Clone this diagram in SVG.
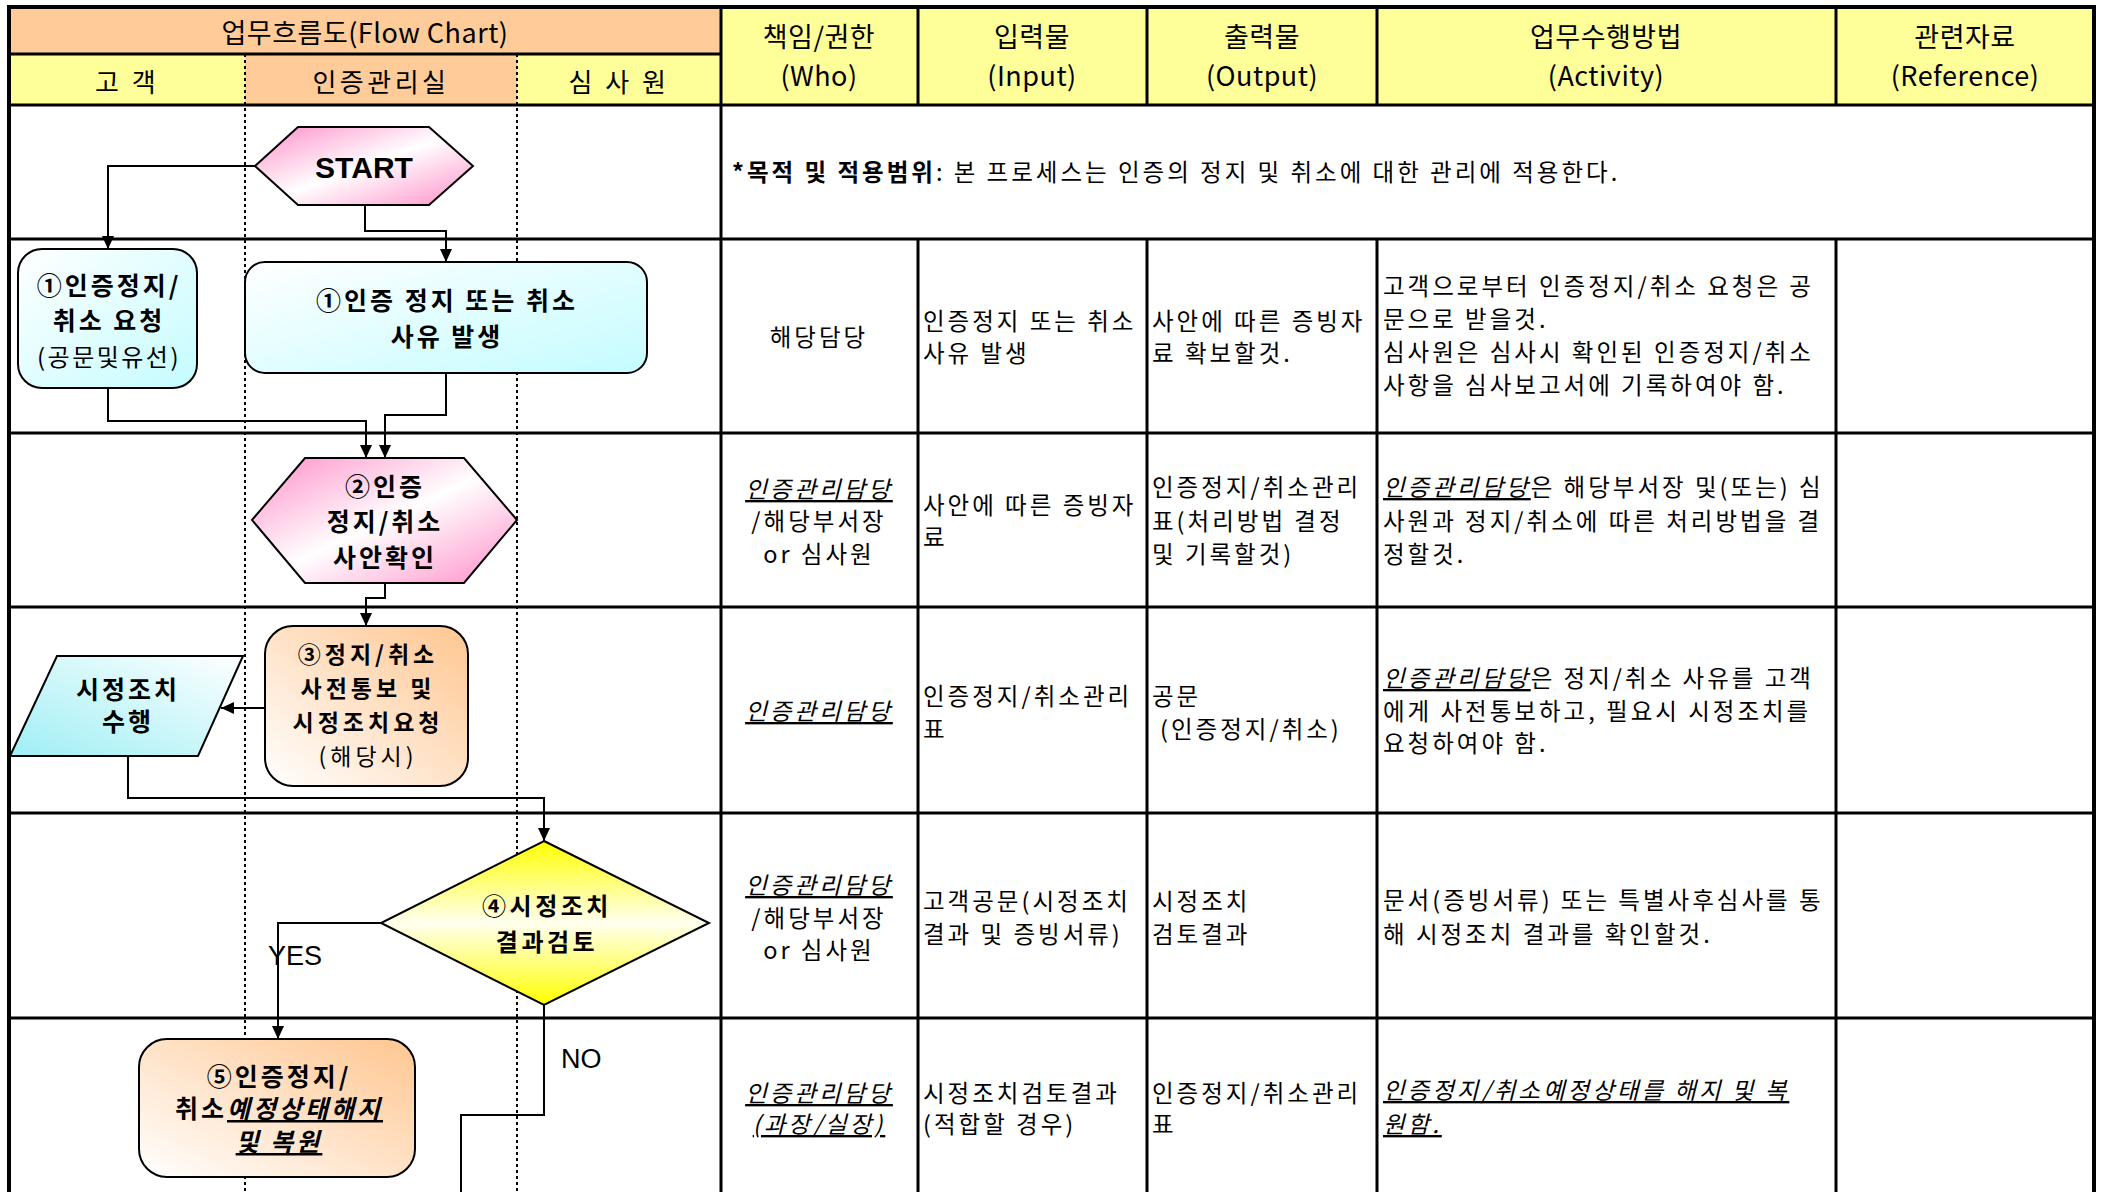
<svg xmlns="http://www.w3.org/2000/svg" width="2101" height="1192" viewBox="0 0 2101 1192">
<style>
text { font-family: "Noto Sans CJK KR", "Noto Sans", sans-serif; fill: #000; dominant-baseline: central; }
.t { font-size: 23.5px; letter-spacing: 3px; }
.c { text-anchor: middle; }
.h { font-size: 27px; letter-spacing: 0.5px; }
.lane { font-size: 26px; letter-spacing: 3.5px; text-anchor: middle; }
.b { font-weight: bold; }
.iu { font-style: italic; text-decoration: underline; }
.n { font-size: 25px; font-weight: bold; letter-spacing: 3px; text-anchor: middle; }
.nn { font-size: 24px; font-weight: normal; letter-spacing: 2.5px; text-anchor: middle; }
.s { font-size: 23px; letter-spacing: 4px; }
.d { font-size: 24px; letter-spacing: 3.5px; }
.lat { font-family: "Liberation Sans", Arial, sans-serif; }
.grid { stroke: #000; stroke-width: 3; fill: none; }
.dot { stroke: #000; stroke-width: 2; stroke-dasharray: 3 3; fill: none; }
.shape { stroke: #000; stroke-width: 2; }
.conn { stroke: #000; stroke-width: 2; fill: none; }
</style>
<defs>
<marker id="arr" markerUnits="userSpaceOnUse" markerWidth="14" markerHeight="12" refX="13" refY="6" orient="auto">
<path d="M0,0 L13,6 L0,12 z" fill="#000"/>
</marker>
<linearGradient id="gPink" x1="0" y1="0" x2="1" y2="1">
<stop offset="0" stop-color="#FF8EC8"/><stop offset="0.5" stop-color="#FFFFFF"/><stop offset="1" stop-color="#FF8EC8"/>
</linearGradient>
<linearGradient id="gCyan" x1="0" y1="0" x2="1" y2="1">
<stop offset="0" stop-color="#FFFFFF"/><stop offset="1" stop-color="#C4FCFF"/>
</linearGradient>
<linearGradient id="gPara" x1="0" y1="1" x2="1" y2="0">
<stop offset="0" stop-color="#9EEFF5"/><stop offset="1" stop-color="#FFFFFF"/>
</linearGradient>
<linearGradient id="gOrange" x1="1" y1="0" x2="0" y2="1">
<stop offset="0" stop-color="#FFC690"/><stop offset="1" stop-color="#FFFFFF"/>
</linearGradient>
<linearGradient id="gYellow" x1="0" y1="0" x2="0" y2="1">
<stop offset="0" stop-color="#FFFF00"/><stop offset="0.5" stop-color="#FFFFF0"/><stop offset="1" stop-color="#FFFF00"/>
</linearGradient>
</defs>
<rect width="2101" height="1192" fill="#FFFFFF"/>

<g id="table">
<rect x="9" y="7" width="712" height="47" fill="#FFCC99"/>
<rect x="9" y="54" width="236" height="51" fill="#FFFF99"/>
<rect x="245" y="54" width="272" height="51" fill="#FFCC99"/>
<rect x="517" y="54" width="204" height="51" fill="#FFFF99"/>
<rect x="721" y="7" width="1373" height="98" fill="#FFFF99"/>
<path class="dot" d="M245,54 V1192 M517,54 V1192"/>
<path class="grid" d="M9,54 H721 M9,105 H2094 M9,239 H2094 M9,433 H2094 M9,607 H2094 M9,813 H2094 M9,1018 H2094"/>
<path class="grid" d="M721,7 V1192 M918,7 V105 M1147,7 V105 M1377,7 V105 M1836,7 V105 M918,239 V1192 M1147,239 V1192 M1377,239 V1192 M1836,239 V1192"/>
<rect x="9" y="7" width="2085" height="1200" fill="none" stroke="#000" stroke-width="4"/>

<text class="h c" x="365" y="31" font-size="28">업무흐름도(Flow Chart)</text>
<text class="lane" x="127" y="80">고 객</text>
<text class="lane" x="381" y="80">인증관리실</text>
<text class="lane" x="619" y="80">심 사 원</text>
<text class="h c" x="819" y="35">책임/권한</text><text class="h c" x="819" y="74">(Who)</text>
<text class="h c" x="1032" y="35">입력물</text><text class="h c" x="1032" y="74">(Input)</text>
<text class="h c" x="1262" y="35">출력물</text><text class="h c" x="1262" y="74">(Output)</text>
<text class="h c" x="1606" y="35">업무수행방법</text><text class="h c" x="1606" y="74">(Activity)</text>
<text class="h c" x="1965" y="35">관련자료</text><text class="h c" x="1965" y="74">(Reference)</text>

<text class="t" x="732" y="171"><tspan class="b">*목적 및 적용범위</tspan>: 본 프로세스는 인증의 정지 및 취소에 대한 관리에 적용한다.</text>

<text class="t c" x="819" y="336">해당담당</text>
<text class="t" x="923" y="320">인증정지 또는 취소</text><text class="t" x="923" y="352">사유 발생</text>
<text class="t" x="1152" y="320">사안에 따른 증빙자</text><text class="t" x="1152" y="352">료 확보할것.</text>
<text class="t" x="1383" y="285">고객으로부터 인증정지/취소 요청은 공</text>
<text class="t" x="1383" y="318">문으로 받을것.</text>
<text class="t" x="1383" y="351">심사원은 심사시 확인된 인증정지/취소</text>
<text class="t" x="1383" y="384">사항을 심사보고서에 기록하여야 함.</text>

<text class="t c" x="819" y="488"><tspan class="iu">인증관리담당</tspan></text>
<text class="t c" x="819" y="520">/해당부서장</text>
<text class="t c" x="819" y="553">or 심사원</text>
<text class="t" x="923" y="504">사안에 따른 증빙자</text><text class="t" x="923" y="536">료</text>
<text class="t" x="1152" y="486">인증정지/취소관리</text><text class="t" x="1152" y="520">표(처리방법 결정</text><text class="t" x="1152" y="553">및 기록할것)</text>
<text class="t" x="1383" y="486"><tspan class="iu">인증관리담당</tspan>은 해당부서장 및(또는) 심</text>
<text class="t" x="1383" y="520">사원과 정지/취소에 따른 처리방법을 결</text>
<text class="t" x="1383" y="553">정할것.</text>

<text class="t c" x="819" y="710"><tspan class="iu">인증관리담당</tspan></text>
<text class="t" x="923" y="695">인증정지/취소관리</text><text class="t" x="923" y="728">표</text>
<text class="t" x="1152" y="695">공문</text><text class="t" x="1160" y="728">(인증정지/취소)</text>
<text class="t" x="1383" y="677"><tspan class="iu">인증관리담당</tspan>은 정지/취소 사유를 고객</text>
<text class="t" x="1383" y="710">에게 사전통보하고, 필요시 시정조치를</text>
<text class="t" x="1383" y="742">요청하여야 함.</text>

<text class="t c" x="819" y="884"><tspan class="iu">인증관리담당</tspan></text>
<text class="t c" x="819" y="917">/해당부서장</text>
<text class="t c" x="819" y="949">or 심사원</text>
<text class="t" x="923" y="900">고객공문(시정조치</text><text class="t" x="923" y="933">결과 및 증빙서류)</text>
<text class="t" x="1152" y="900">시정조치</text><text class="t" x="1152" y="933">검토결과</text>
<text class="t" x="1383" y="899">문서(증빙서류) 또는 특별사후심사를 통</text>
<text class="t" x="1383" y="933">해 시정조치 결과를 확인할것.</text>

<text class="t c" x="819" y="1092"><tspan class="iu">인증관리담당</tspan></text>
<text class="t c" x="819" y="1123"><tspan class="iu">(과장/실장)</tspan></text>
<text class="t" x="923" y="1092">시정조치검토결과</text><text class="t" x="923" y="1123">(적합할 경우)</text>
<text class="t" x="1152" y="1092">인증정지/취소관리</text><text class="t" x="1152" y="1123">표</text>
<text class="t" x="1383" y="1089" letter-spacing="4"><tspan class="iu">인증정지/취소예정상태를 해지 및 복</tspan></text>
<text class="t" x="1383" y="1123" letter-spacing="4"><tspan class="iu">원함.</tspan></text>
</g>

<g id="connectors">
<path class="conn" d="M255,166 H108 V249" marker-end="url(#arr)"/>
<path class="conn" d="M365,205 V231 H446 V262" marker-end="url(#arr)"/>
<path class="conn" d="M108,388 V421 H366 V458" marker-end="url(#arr)"/>
<path class="conn" d="M446,373 V415 H385 V458" marker-end="url(#arr)"/>
<path class="conn" d="M385,583 V598 H366 V626" marker-end="url(#arr)"/>
<path class="conn" d="M265,708 H221" marker-end="url(#arr)"/>
<path class="conn" d="M128,756 V798 H544 V841" marker-end="url(#arr)"/>
<path class="conn" d="M381,923 H278 V1039" marker-end="url(#arr)"/>
<path class="conn" d="M544,1005 V1115 H461 V1192"/>
<text class="lat" x="268" y="956" font-size="27">YES</text>
<text class="lat" x="561" y="1059" font-size="27">NO</text>
</g>

<g id="start">
<polygon class="shape" points="255,166 298,127 429,127 473,166 429,205 298,205" fill="url(#gPink)"/>
<text class="lat" x="364" y="167" font-size="30" font-weight="bold" text-anchor="middle">START</text>
</g>

<g id="n1a">
<rect class="shape" x="18" y="249" width="179" height="139" rx="24" fill="url(#gCyan)"/>
<text class="n" x="109" y="284">①인증정지/</text>
<text class="n" x="109" y="319">취소 요청</text>
<text class="nn" x="109" y="355">(공문및유선)</text>
</g>

<g id="n1b">
<rect class="shape" x="245" y="262" width="402" height="111" rx="20" fill="url(#gCyan)"/>
<text class="n" x="447" y="299">①인증 정지 또는 취소</text>
<text class="n" x="447" y="335">사유 발생</text>
</g>

<g id="n2">
<polygon class="shape" points="252,520 305,458 464,458 517,520 464,583 305,583" fill="url(#gPink)"/>
<text class="n" x="385" y="485">②인증</text>
<text class="n" x="385" y="520">정지/취소</text>
<text class="n" x="385" y="556">사안확인</text>
</g>

<g id="n3">
<rect class="shape" x="265" y="626" width="203" height="160" rx="28" fill="url(#gOrange)"/>
<text class="n s" x="368" y="653">③정지/취소</text>
<text class="n s" x="368" y="687">사전통보 및</text>
<text class="n s" x="368" y="721">시정조치요청</text>
<text class="nn s" x="368" y="755">(해당시)</text>
</g>

<g id="n3a">
<polygon class="shape" points="57,656 243,656 198,756 10,756" fill="url(#gPara)"/>
<text class="n" x="128" y="688">시정조치</text>
<text class="n" x="128" y="720">수행</text>
</g>

<g id="n4">
<polygon class="shape" points="544,841 709,923 544,1005 381,923" fill="url(#gYellow)"/>
<text class="n d" x="547" y="904">④시정조치</text>
<text class="n d" x="547" y="940">결과검토</text>
</g>

<g id="n5">
<rect class="shape" x="139" y="1039" width="276" height="138" rx="28" fill="url(#gOrange)"/>
<text class="n" x="279" y="1075">⑤인증정지/</text>
<text class="n" x="279" y="1107">취소<tspan class="iu">예정상태해지</tspan></text>
<text class="n" x="279" y="1140"><tspan class="iu">및 복원</tspan></text>
</g>
</svg>
